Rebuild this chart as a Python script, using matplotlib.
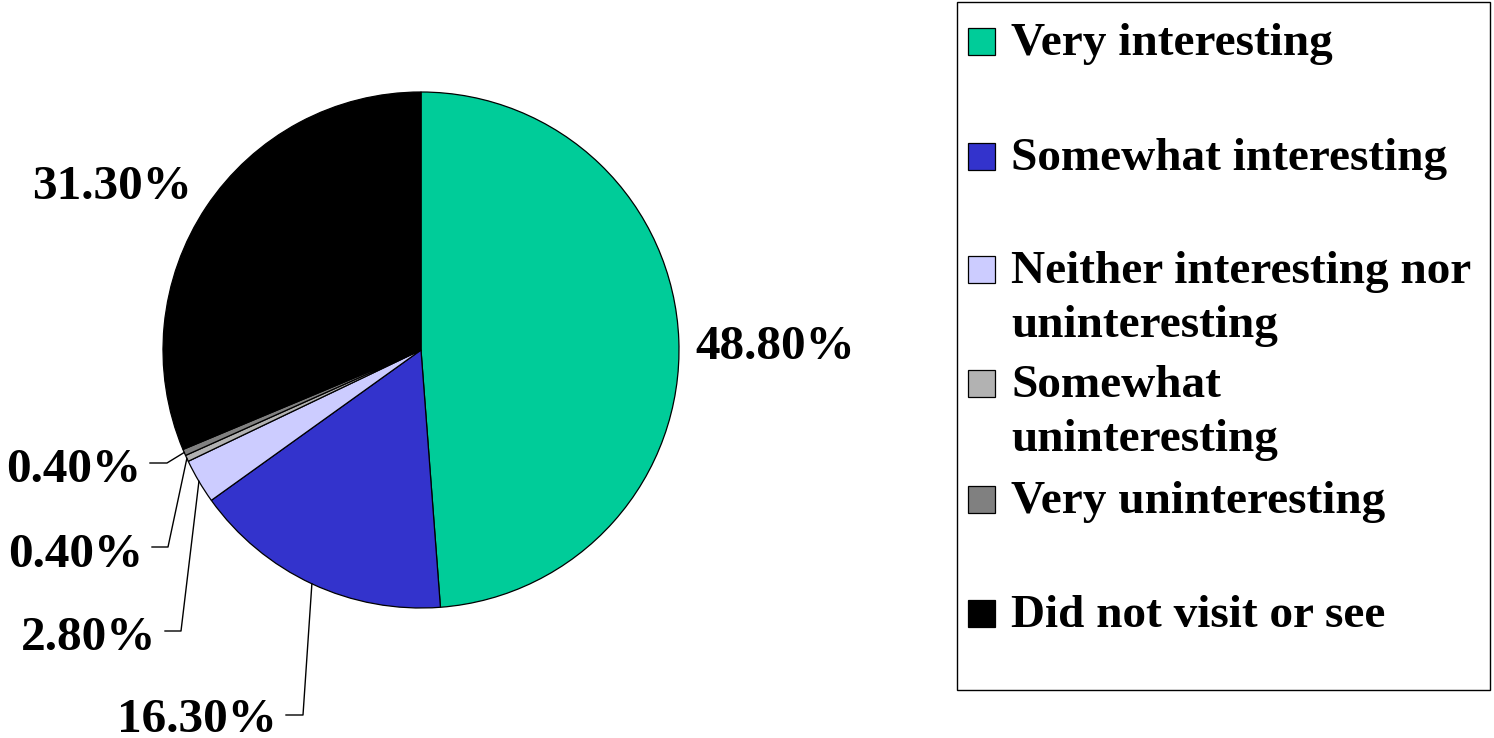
import matplotlib.pyplot as plt
import numpy as np
from matplotlib.patches import Rectangle

plt.rcParams['font.family'] = ['Liberation Serif', 'DejaVu Serif']
plt.rcParams['font.weight'] = 'bold'

# Survey responses (percent)
categories = [
    "Very interesting",
    "Somewhat interesting",
    "Neither interesting nor\nuninteresting",
    "Somewhat\nuninteresting",
    "Very uninteresting",
    "Did not visit or see",
]
values = [48.8, 16.3, 2.8, 0.4, 0.4, 31.3]
colors = ["#00CC99", "#3333CC", "#CCCCFF", "#B2B2B2", "#808080", "#000000"]

W, H = 1494, 738
fig = plt.figure(figsize=(W / 100, H / 100), dpi=100)
ax = fig.add_axes([0, 0, 1, 1])

# pixel-like coordinates, y grows downward
cx, cy, r = 421, 350, 258
wedges, _ = ax.pie(values, colors=colors, startangle=-90, counterclock=True,
                   center=(cx, cy), radius=r,
                   wedgeprops=dict(edgecolor="black", linewidth=0.9))
ax.set_xlim(0, W)
ax.set_ylim(H, 0)
ax.set_aspect("equal")
ax.axis("off")

labels = [f"{v:.2f}%" for v in values]
fs = 35.5

# big slices: plain labels beside the pie
ax.text(695, 359, labels[0], fontsize=fs, ha="left", va="baseline")
ax.text(192, 199, labels[5], fontsize=fs, ha="right", va="baseline")

# small slices: labels with elbow leader lines
# (slice index, text right edge, baseline, elbow x, elbow y)
leaders = [
    (4, 141, 482, 167, 463),
    (3, 143, 567, 168, 547),
    (2, 156, 650, 181, 631),
    (1, 277, 732, 303, 715),
]
for i, tx, ty, ex, ey in leaders:
    w = wedges[i]
    mid = np.deg2rad((w.theta1 + w.theta2) / 2)
    px = cx + r * np.cos(mid)
    py = cy + r * np.sin(mid)
    ax.plot([px, ex, tx + 9], [py, ey, ey], color="black", lw=1.0)
    ax.text(tx, ty, labels[i], fontsize=fs, ha="right", va="baseline")

# legend box
ax.add_patch(Rectangle((957, 2), 533, 688, facecolor="white",
                       edgecolor="black", linewidth=1.0))
baselines = [55, 170, 283, 397, 513, 627]
line_step = 54
for cat, col, by in zip(categories, colors, baselines):
    ax.add_patch(Rectangle((968, by - 27), 27, 27, facecolor=col,
                           edgecolor="black", linewidth=0.9))
    for k, line in enumerate(cat.split("\n")):
        ax.text(1011, by + k * line_step, line, fontsize=34,
                ha="left", va="baseline")

fig.savefig("out.png", dpi=100)
